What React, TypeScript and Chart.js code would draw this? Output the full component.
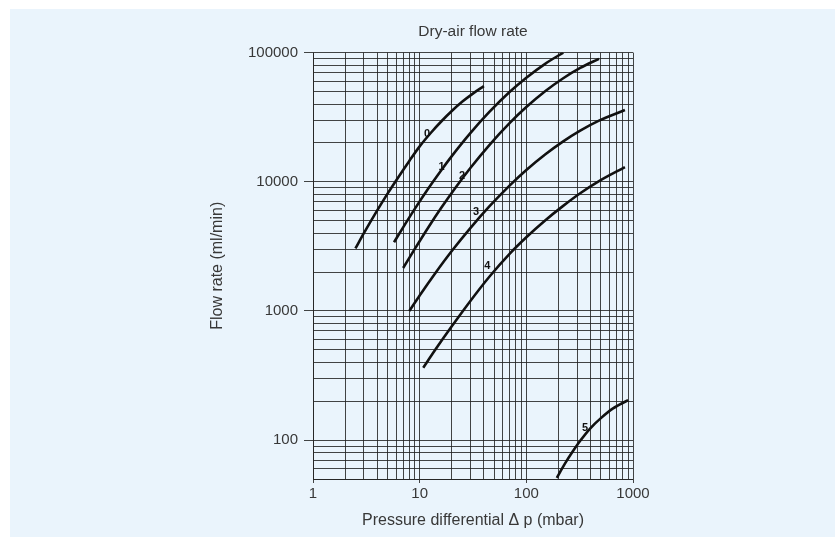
import React, { useEffect, useRef } from 'react';
import { Chart, registerables } from 'chart.js';

Chart.register(...registerables);

const titleText = 'Dry-air flow rate';
const xTitle = 'Pressure differential \u0394 p (mbar)';
const yTitle = 'Flow rate (ml/min)';

// grid / tick values of the log-log paper
const xTickValues = [1, 2, 3, 4, 5, 6, 7, 8, 9, 10, 20, 30, 40, 50, 60, 70, 80, 90, 100, 200, 300, 400, 500, 600, 700, 800, 900, 1000];
const yTickValues = [50, 60, 70, 80, 90, 100, 200, 300, 400, 500, 600, 700, 800, 900, 1000, 2000, 3000, 4000, 5000, 6000, 7000, 8000, 9000, 10000, 20000, 30000, 40000, 50000, 60000, 70000, 80000, 90000, 100000];
const xTickLabels = [1, 10, 100, 1000];
const yTickLabels = [100, 1000, 10000, 100000];

// curves: pressure differential (mbar) vs flow rate (ml/min)
const curveNames = ['0', '1', '2', '3', '4', '5'];
const curve0P = [2.5, 3, 4, 5, 6, 8, 10, 13, 16, 20, 25, 32, 40];
const curve0Q = [3050, 4000, 6000, 8100, 10200, 14500, 18800, 24400, 29400, 35300, 41600, 48600, 55000];
const curve1P = [5.75, 7, 9, 12, 16, 20, 30, 45, 70, 100, 150, 222];
const curve1Q = [3400, 4440, 6170, 8830, 12350, 15800, 23900, 34700, 49700, 63900, 81900, 100000];
const curve2P = [7, 9, 12, 16, 22, 30, 45, 70, 100, 150, 220, 320, 480];
const curve2Q = [2150, 3020, 4410, 6310, 9150, 12830, 19240, 28560, 37860, 50200, 63000, 76100, 89500];
const curve3P = [8, 10, 14, 20, 30, 45, 70, 100, 150, 220, 320, 480, 840];
const curve3Q = [1000, 1318, 1960, 2910, 4400, 6440, 9380, 12330, 16260, 20460, 24880, 29720, 35900];
const curve4P = [10.8, 14, 20, 30, 45, 70, 100, 150, 220, 320, 480, 840];
const curve4Q = [363, 500, 760, 1200, 1840, 2780, 3720, 5020, 6480, 8150, 10120, 13000];
const curve5P = [193, 230, 270, 320, 400, 500, 650, 900];
const curve5Q = [51, 65.7, 80.8, 98.8, 124, 148, 176, 204];

// curve number labels
const labelP = [11.7, 16, 25, 33.7, 43, 355];
const labelQ = [23500, 13000, 11000, 5850, 2210, 124];

const curvesP = [curve0P, curve1P, curve2P, curve3P, curve4P, curve5P];
const curvesQ = [curve0Q, curve1Q, curve2Q, curve3Q, curve4Q, curve5Q];

const FONT = "'Liberation Sans', Arial, Helvetica, sans-serif";
const GRID = 'rgba(35,35,35,0.85)';
const TEXT = '#383838';
const BG = '#eaf4fc';

const curveLabelPlugin = {
  id: 'curveLabels',
  afterDatasetsDraw(chart: any) {
    const { ctx, scales } = chart;
    ctx.save();
    ctx.fillStyle = '#111';
    ctx.font = `bold 11px ${FONT}`;
    ctx.textAlign = 'center';
    ctx.textBaseline = 'middle';
    curveNames.forEach((name, i) => {
      const px = scales.x.getPixelForValue(labelP[i]);
      const py = scales.y.getPixelForValue(labelQ[i]);
      ctx.fillText(name, px, py);
    });
    ctx.restore();
  },
};

export default function App() {
  const ref = useRef<HTMLCanvasElement>(null);

  useEffect(() => {
    if (!ref.current) return;
    const datasets = curveNames.map((name, i) => ({
      label: name,
      data: curvesP[i].map((p, j) => ({ x: p, y: curvesQ[i][j] })),
      borderColor: '#111',
      borderWidth: 2.6,
      pointRadius: 0,
      fill: false,
      cubicInterpolationMode: 'monotone' as const,
    }));

    const chart = new Chart(ref.current, {
      type: 'line',
      data: { datasets },
      plugins: [curveLabelPlugin],
      options: {
        animation: false,
        responsive: false,
        layout: { padding: { left: 193, right: 202, top: 0, bottom: 0 } },
        plugins: {
          legend: { display: false },
          tooltip: { enabled: false },
          title: {
            display: true,
            text: titleText,
            fullSize: false,
            color: TEXT,
            font: { family: FONT, size: 15.5, weight: 'normal' },
            padding: { top: 13, bottom: 12 },
          },
        },
        scales: {
          x: {
            type: 'logarithmic',
            min: 1,
            max: 1000,
            afterBuildTicks: (s: any) => {
              s.ticks = xTickValues.map((v) => ({ value: v, major: xTickLabels.includes(v) }));
            },
            afterFit: (s: any) => {
              s.height = 58;
            },
            ticks: {
              autoSkip: false,
              maxRotation: 0,
              minRotation: 0,
              padding: 2,
              color: TEXT,
              font: { family: FONT, size: 15 },
              callback: (v: any) => (xTickLabels.includes(Number(v)) ? String(v) : ''),
            },
            grid: {
              color: GRID,
              lineWidth: 1,
              tickLength: 4,
              tickColor: (c: any) => (c.tick && xTickLabels.includes(c.tick.value) ? GRID : 'rgba(0,0,0,0)'),
            },
            border: { color: GRID },
            title: {
              display: true,
              text: xTitle,
              color: TEXT,
              font: { family: FONT, size: 16 },
              padding: { top: 0, bottom: 7 },
            },
          },
          y: {
            type: 'logarithmic',
            min: 50,
            max: 100000,
            afterBuildTicks: (s: any) => {
              s.ticks = yTickValues.map((v) => ({ value: v, major: yTickLabels.includes(v) }));
            },
            afterFit: (s: any) => {
              s.width = 110;
            },
            ticks: {
              autoSkip: false,
              padding: 6,
              color: TEXT,
              font: { family: FONT, size: 15 },
              callback: (v: any) => (yTickLabels.includes(Number(v)) ? String(v) : ''),
            },
            grid: {
              color: GRID,
              lineWidth: 1,
              tickLength: 9,
              tickColor: (c: any) => (c.tick && yTickLabels.includes(c.tick.value) ? GRID : 'rgba(0,0,0,0)'),
            },
            border: { color: GRID },
            title: {
              display: true,
              text: yTitle,
              color: TEXT,
              font: { family: FONT, size: 16 },
              padding: { top: 5, bottom: 0 },
            },
          },
        },
      },
    });
    return () => chart.destroy();
  }, []);

  return (
    <div
      style={{
        position: 'absolute',
        left: 10,
        top: 9,
        width: 825,
        height: 528,
        background: BG,
      }}
    >
      <canvas ref={ref} width={825} height={528} style={{ display: 'block' }} />
    </div>
  );
}
